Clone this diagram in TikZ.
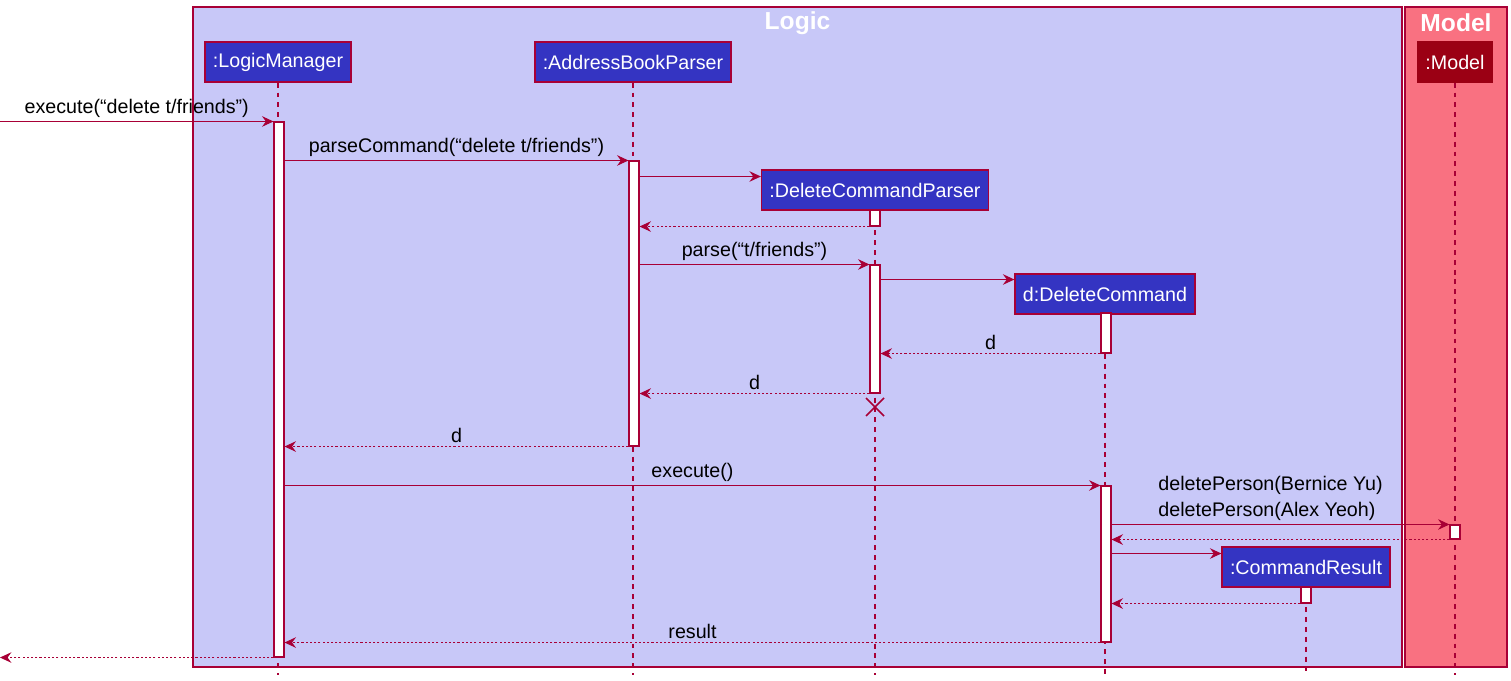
\documentclass[tikz,border=0pt]{standalone}
\usepackage{fontspec}
\setmainfont{Liberation Sans}
\usetikzlibrary{positioning,arrows.meta,fit}

\definecolor{umlline}{HTML}{A80036}
\definecolor{logicbg}{HTML}{C8C8F8}
\definecolor{modelbg}{HTML}{F97181}
\definecolor{objbg}{HTML}{3434C2}
\definecolor{modelobjbg}{HTML}{9B0014}

\begin{document}
\begin{tikzpicture}[
    x=0.02cm, y=-0.02cm,
    >={Stealth[length=6.5pt,width=6pt,inset=2.2pt]},
    every node/.style={font=\fontsize{11.2}{14.7}\selectfont},
    frame/.style={draw=umlline, line width=0.6pt, inner sep=0pt},
    title/.style={text=white, font=\fontsize{14}{16}\selectfont\bfseries},
    obj/.style={draw=umlline, line width=0.8pt, fill=objbg, text=white,
                minimum height=0.8cm, inner xsep=4.5pt},
    modelobj/.style={obj, draw=modelobjbg, fill=modelobjbg},
    life/.style={draw=umlline, line width=0.6pt, dash pattern=on 2.8pt off 2.8pt},
    act/.style={draw=umlline, fill=white, line width=0.6pt, inner sep=0pt},
    msg/.style={draw=umlline, line width=0.6pt, ->},
    ret/.style={msg, dash pattern=on 1.2pt off 1.2pt},
    lbl/.style={midway, above, yshift=-1.5pt},
    destroy/.style={draw=umlline, line width=0.9pt}
]
\useasboundingbox (0,0) rectangle (1511,680);

% ---------------- Frames ----------------
\node[frame, fill=logicbg, fit={(193,7) (1402,667)}] (logic) {};
\node[frame, fill=modelbg, fit={(1405,7) (1507,667)}] (model) {};
\node[title] at (logic.north |- 0,23) {Logic};
\node[title] at (model.north |- 0,23) {Model};

% ---------------- Participants ----------------
\node[obj] (lm) at (278,62) {:LogicManager};
\node[obj] (abp) at (633,62) {:AddressBookParser};
\node[obj] (dcp) at (875,190) {:DeleteCommandParser};
\node[obj] (dc) at (1105,294) {d:DeleteCommand};
\node[obj] (cr) at (1306,567) {:CommandResult};
\node[modelobj] (mdl) at (1455,62) {:Model};

% ---------------- Lifelines ----------------
\coordinate (bot) at (0,675);
\coordinate (left) at (0,0);
\foreach \p in {lm,abp,dcp,dc,cr,mdl}
    \draw[life] (\p.south) -- (\p.south |- bot);

% ---------------- Activations ----------------
\node[act, fit={(274,122) (284,657)}] (lm1) {};
\node[act, fit={(629,161) (639,446)}] (abp1) {};
\node[act, fit={(870,210) (880,226)}] (dcp1) {};
\node[act, fit={(870,265) (880,393)}] (dcp2) {};
\node[act, fit={(1101,313) (1111,353)}] (dc1) {};
\node[act, fit={(1101,486) (1111,642)}] (dc2) {};
\node[act, fit={(1450,525) (1460,539)}] (mdl1) {};
\node[act, fit={(1301,587) (1311,603)}] (cr1) {};

% rows of the create messages
\coordinate (newDcp) at (0,176.5);
\coordinate (newDc) at (0,279.5);
\coordinate (newCr) at (0,553.5);
\coordinate (kill) at (875,407);

% ---------------- Messages ----------------
\draw[msg] (left |- lm1.north) -- (lm1.north west)
    node[lbl] {execute(“delete t/friends”)};
\draw[msg] (lm1.east |- abp1.north) -- (abp1.north west)
    node[lbl] {parseCommand(“delete t/friends”)};
\draw[msg] (abp1.east |- newDcp) -- (dcp.west |- newDcp);
\draw[ret] (dcp1.south west) -- (abp1.east |- dcp1.south);
\draw[msg] (abp1.east |- dcp2.north) -- (dcp2.north west)
    node[lbl] {parse(“t/friends”)};
\draw[msg] (dcp2.east |- newDc) -- (dc.west |- newDc);
\draw[ret] (dc1.south west) -- (dcp2.east |- dc1.south)
    node[lbl] {d};
\draw[ret] (dcp2.south west) -- (abp1.east |- dcp2.south)
    node[lbl] {d};
\draw[destroy] (kill) +(-9,-9) -- +(9,9) (kill) +(-9,9) -- +(9,-9);
\draw[ret] (abp1.south west) -- (lm1.east |- abp1.south)
    node[lbl] {d};

% DeleteCommand execution
\draw[msg] (lm1.east |- dc2.north) -- (dc2.north west)
    node[lbl] {execute()};
\draw[msg] (dc2.east |- mdl1.north) -- (mdl1.north west)
    node[pos=0.12, anchor=south west, align=left, yshift=-1.5pt] {deletePerson(Bernice Yu)\\deletePerson(Alex Yeoh)};
\draw[ret] (mdl1.south west) -- (dc2.east |- mdl1.south);
\draw[msg] (dc2.east |- newCr) -- (cr.west |- newCr);
\draw[ret] (cr1.south west) -- (dc2.east |- cr1.south);
\draw[ret] (dc2.south west) -- (lm1.east |- dc2.south)
    node[lbl] {result};
\draw[ret] (lm1.south west) -- (left |- lm1.south);

\end{tikzpicture}
\end{document}
